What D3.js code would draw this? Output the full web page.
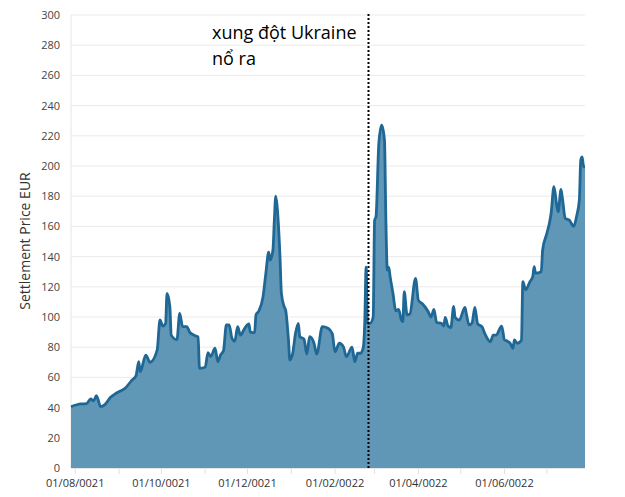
<!DOCTYPE html>
<html><head><meta charset="utf-8">
<script src="https://cdn.jsdelivr.net/npm/d3@7"></script>
<style>
body{margin:0;background:#fff;}
svg text{font-family:"Open Sans","Noto Sans",sans-serif;}
</style></head>
<body><svg id="c" width="625" height="497"></svg>
<script>
const dates = ["2021-07-29","2021-08-05","2021-08-09","2021-08-12","2021-08-14","2021-08-16","2021-08-19","2021-08-22","2021-08-26","2021-08-29",
"2021-09-02","2021-09-05","2021-09-10","2021-09-13","2021-09-15","2021-09-16","2021-09-20","2021-09-23","2021-09-28","2021-09-30",
"2021-10-02","2021-10-04","2021-10-05","2021-10-07","2021-10-08","2021-10-12","2021-10-14","2021-10-16","2021-10-19","2021-10-21","2021-10-24","2021-10-27","2021-10-28",
"2021-11-01","2021-11-03","2021-11-05","2021-11-08","2021-11-10","2021-11-12","2021-11-14","2021-11-16","2021-11-18","2021-11-20","2021-11-22","2021-11-24","2021-11-26","2021-11-29",
"2021-12-02","2021-12-03","2021-12-06","2021-12-07","2021-12-09","2021-12-12","2021-12-14","2021-12-16","2021-12-17","2021-12-19","2021-12-20","2021-12-21","2021-12-22","2021-12-24","2021-12-25","2021-12-27","2021-12-28","2021-12-30","2021-12-31",
"2022-01-02","2022-01-04","2022-01-06","2022-01-07","2022-01-10","2022-01-12","2022-01-14","2022-01-17","2022-01-19","2022-01-23","2022-01-27","2022-01-30",
"2022-02-01","2022-02-04","2022-02-07","2022-02-09","2022-02-13","2022-02-15","2022-02-17","2022-02-19","2022-02-21","2022-02-22","2022-02-23","2022-02-24","2022-02-26","2022-02-28",
"2022-03-01","2022-03-02","2022-03-04","2022-03-06","2022-03-08","2022-03-09","2022-03-10","2022-03-11","2022-03-12","2022-03-14","2022-03-16","2022-03-18","2022-03-20","2022-03-21","2022-03-22","2022-03-24","2022-03-26","2022-03-30",
"2022-04-01","2022-04-04","2022-04-08","2022-04-10","2022-04-12","2022-04-14","2022-04-17","2022-04-19","2022-04-20","2022-04-22","2022-04-24","2022-04-26","2022-04-27","2022-04-30",
"2022-05-04","2022-05-05","2022-05-07","2022-05-09","2022-05-11","2022-05-13","2022-05-16","2022-05-18","2022-05-22","2022-05-24","2022-05-26","2022-05-30",
"2022-06-01","2022-06-03","2022-06-05","2022-06-07","2022-06-08","2022-06-10","2022-06-13","2022-06-14","2022-06-16","2022-06-19","2022-06-21","2022-06-22","2022-06-23","2022-06-27","2022-06-28",
"2022-07-01","2022-07-03","2022-07-04","2022-07-06","2022-07-08","2022-07-09","2022-07-11","2022-07-12","2022-07-14","2022-07-17","2022-07-20","2022-07-22","2022-07-24","2022-07-25","2022-07-26","2022-07-27","2022-07-28"];
const prices = [40.6,42.4,42.6,45.7,44.5,47.9,40.6,42,46.8,48.9,
51,52.5,58,61,70.4,63.8,74.8,70,78,98,
94,95.8,115.7,106.8,88,85,102.4,93.6,93.6,90,88,86.8,66,
66.7,76.4,73.8,79.3,70.4,75,77.7,94.7,94.7,85.9,84,93.6,88,92.5,
95.4,90,89.6,101.3,104,113.5,129,143,137.7,144.4,164,180,173,140,115.7,106.8,104.6,84.8,71.5,
76,89.2,95.8,87,85.3,75.5,87,83,75.5,93.6,92.5,89,
77,82.6,80,73.7,80,70.4,76,76,80,95.8,133,95.8,96,100,
164,166.5,215,227,217,164,131,133,126.7,115.7,104,105,98,97,116.8,101.3,102,125.6,
111,108.6,103.5,100,105,96.2,96,94,99.8,94,93,107,99.8,98,
106.4,102,94.7,96,106.4,95.4,93.6,89.2,83.6,88,88,94,
84.8,84,82.6,79.3,84.8,82.6,84.5,123.4,118,123.4,126.7,133.3,129,130,144.4,
155.4,163,168.7,186.3,174,169.7,184.5,178.6,165.4,164,160,166.5,177.5,204,206,199.5,199.5];
const yTicks = [0,20,40,60,80,100,120,140,160,180,200,220,240,260,280,300];
const xLabelDates = ["2021-08-01","2021-10-01","2021-12-01","2022-02-01","2022-04-01","2022-06-01"];
const eventDate = "2022-02-24";
const yTitle = "Settlement Price EUR";
const annotation = ["xung đột Ukraine","nổ ra"];

const parse = d3.utcParse("%Y-%m-%d");
const data = dates.map((d,i)=>({date:parse(d), v:prices[i]}));
const svg = d3.select("#c");
const L=71, R=585, T=15, B=468;
const x = d3.scaleUtc().domain([data[0].date, data[data.length-1].date]).range([L,R]);
const y = d3.scaleLinear().domain([0,300]).range([B,T]);

// grid
svg.append("g").selectAll("line").data(yTicks).join("line")
  .attr("x1",L).attr("x2",R).attr("y1",d=>y(d)).attr("y2",d=>y(d))
  .attr("stroke","#ebebeb").attr("stroke-width",1);
svg.append("line").attr("x1",L).attr("x2",L).attr("y1",T).attr("y2",B).attr("stroke","#e6e6e6");

// y labels
svg.append("g").selectAll("text").data(yTicks).join("text")
  .attr("x",60).attr("y",d=>y(d)+4).attr("text-anchor","end")
  .attr("font-size",11).attr("fill","#444").text(d=>d);

// area + line
const area = d3.area().x(d=>x(d.date)).y0(y(0)).y1(d=>y(d.v)).curve(d3.curveMonotoneX);
const line = d3.line().x(d=>x(d.date)).y(d=>y(d.v)).curve(d3.curveMonotoneX);
svg.append("path").datum(data).attr("d",area).attr("fill","#6096b6");
svg.append("path").datum(data).attr("d",line).attr("fill","none")
  .attr("stroke","#1f6895").attr("stroke-width",2.8).attr("stroke-linejoin","round");

// x axis ticks
const months = d3.utcMonth.range(parse("2021-08-01"), parse("2022-08-01"));
svg.append("line").attr("x1",L).attr("x2",R).attr("y1",B+0.5).attr("y2",B+0.5).attr("stroke","#e6e6e6");
svg.append("g").selectAll("line").data(months).join("line")
  .attr("x1",d=>x(d)).attr("x2",d=>x(d)).attr("y1",B+1).attr("y2",B+6).attr("stroke","#e0e0e0");
const fmt = d3.utcFormat("%d/%m/00%y");
svg.append("g").selectAll("text").data(xLabelDates.map(parse)).join("text")
  .attr("x",d=>x(d)).attr("y",487).attr("text-anchor","middle")
  .attr("font-size",11).attr("fill","#333").text(d=>fmt(d));

// event line
const ex = Math.round(x(parse(eventDate)))+0.5;
svg.append("line").attr("x1",ex).attr("x2",ex).attr("y1",14).attr("y2",B)
  .attr("stroke","#000").attr("stroke-width",2).attr("stroke-dasharray","2,2");

// annotation
svg.append("g").selectAll("text").data(annotation).join("text")
  .attr("x",212).attr("y",(d,i)=>39+i*26).attr("font-size",18).attr("fill","#000").text(d=>d);

// y title
svg.append("text").attr("transform","translate(30,241) rotate(-90)")
  .attr("text-anchor","middle").attr("font-size",14).attr("fill","#333").text(yTitle);
</script></body></html>
